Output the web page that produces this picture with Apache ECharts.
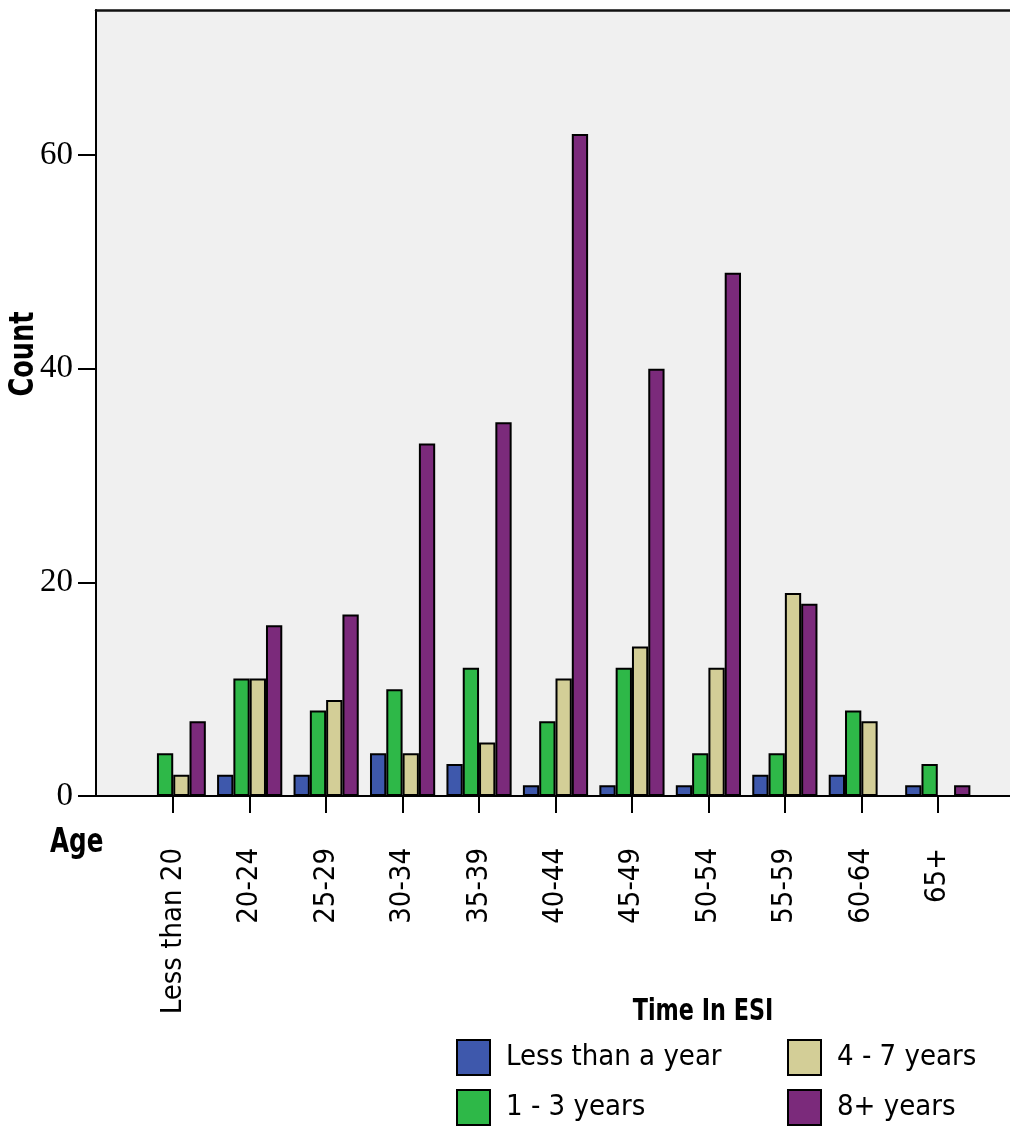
<!DOCTYPE html>
<html>
<head>
<meta charset="utf-8">
<script src="https://cdn.jsdelivr.net/npm/echarts@6/dist/echarts.min.js"></script>
<style>
html,body{margin:0;padding:0;background:#fff;}
#chart{width:1010px;height:1126px;}
</style>
</head>
<body>
<div id="chart"></div>
<script>
const categories = ['Less than 20','20-24','25-29','30-34','35-39','40-44','45-49','50-54','55-59','60-64','65+'];
const seriesNames = ['Less than a year','1 - 3 years','4 - 7 years','8+ years'];
const lessThanYear = [0,2,2,4,3,1,1,1,2,2,1];
const oneToThree   = [4,11,8,10,12,7,12,4,4,8,3];
const fourToSeven  = [2,11,9,4,5,11,14,12,19,7,0];
const eightPlus    = [7,16,17,33,35,62,40,49,18,0,1];
const yMin = 0, yMax = 73.6, yInterval = 20;

const colors = ['#3e58ac','#2eb848','#d3ce97','#7b2a7b'];
const NARROW = '"Liberation Sans Narrow","Arial Narrow","DejaVu Sans Condensed",sans-serif';
const SERIF = '"Liberation Serif","Times New Roman",serif';

const chart = echarts.init(document.getElementById('chart'), null, {renderer:'canvas'});
const values = [lessThanYear, oneToThree, fourToSeven, eightPlus];

const legendCommon = {
  top:1039, orient:'vertical', itemWidth:33, itemHeight:35, itemGap:13, icon:'rect', padding:0,
  textStyle:{fontFamily:NARROW, fontSize:29, color:'#000', lineHeight:35, padding:[0,0,0,11]}
};

const option = {
  animation:false,
  grid:[
    {left:96, top:10, right:0, height:786, show:true, backgroundColor:'#f0f0f0', borderWidth:0},
    {left:135, top:10, width:841, height:786}
  ],
  xAxis:[
    {gridIndex:0, type:'value', min:0, max:1, position:'bottom',
     axisLine:{show:true, lineStyle:{color:'#000', width:2}}, axisTick:{show:false}, axisLabel:{show:false}, splitLine:{show:false}},
    {gridIndex:0, type:'value', min:0, max:1, position:'top',
     axisLine:{show:true, lineStyle:{color:'#111', width:2.5}}, axisTick:{show:false}, axisLabel:{show:false}, splitLine:{show:false}},
    {gridIndex:1, type:'category', data:categories, position:'bottom',
     axisLine:{show:false},
     axisTick:{show:true, alignWithLabel:true, length:17, lineStyle:{color:'#000', width:2}},
     axisLabel:{rotate:90, margin:52, interval:0, color:'#000', fontFamily:NARROW, fontSize:29},
     splitLine:{show:false}}
  ],
  yAxis:[
    {gridIndex:0, type:'value', min:yMin, max:yMax, interval:yInterval,
     axisLine:{show:true, lineStyle:{color:'#000', width:2}},
     axisTick:{show:true, length:18, lineStyle:{color:'#000', width:2}},
     axisLabel:{margin:23, color:'#000', fontFamily:SERIF, fontSize:33, showMaxLabel:false},
     splitLine:{show:false}},
    {gridIndex:1, type:'value', min:yMin, max:yMax, interval:yInterval, show:false, splitLine:{show:false}}
  ],
  legend:[
    Object.assign({left:456, data:[seriesNames[0], seriesNames[1]]}, legendCommon),
    Object.assign({left:787, data:[seriesNames[2], seriesNames[3]]}, legendCommon)
  ],
  graphic:[
    {type:'text', x:50, y:827, scaleX:0.83, style:{text:'Age', font:'bold 33px '+NARROW, fill:'#000'}},
    {type:'text', x:24, y:354, rotation:Math.PI/2, scaleX:0.86, style:{text:'Count', font:'bold 33px '+NARROW, fill:'#000', align:'center', verticalAlign:'middle'}},
    {type:'text', x:703, y:1012, scaleX:0.8, style:{text:'Time In ESI', font:'bold 31px '+NARROW, fill:'#000', align:'center', verticalAlign:'middle'}}
  ],
  series: seriesNames.map((n,i)=>({
    name:n, type:'bar', xAxisIndex:2, yAxisIndex:1,
    data: values[i], barWidth:16.3, barGap:'0%',
    itemStyle:{color:colors[i], borderColor:'#000', borderWidth:2},
    emphasis:{disabled:true}
  }))
};
chart.setOption(option);
</script>
</body>
</html>
